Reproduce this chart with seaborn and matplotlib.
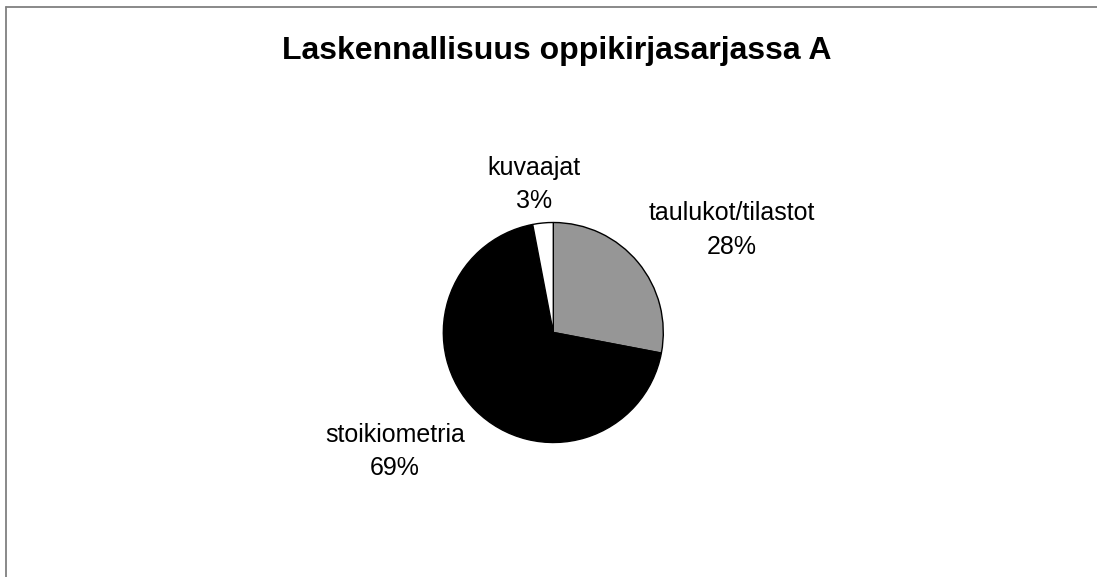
import matplotlib
matplotlib.use("Agg")
import matplotlib.pyplot as plt
import seaborn as sns
from matplotlib.lines import Line2D

# Data
categories = ["taulukot/tilastot", "stoikiometria", "kuvaajat"]
values = [28, 69, 3]
slice_colors = ["#969696", "#000000", "#ffffff"]
title_text = "Laskennallisuus oppikirjasarjassa A"

sns.set_theme(style="white")
plt.rcParams['font.family'] = ['Liberation Sans', 'DejaVu Sans']

W, H = 1097, 577
fig = plt.figure(figsize=(W / 100, H / 100), dpi=100)
fig.patch.set_facecolor("white")

# pie axes: centre (553, 332.5) px, radius 110 px
cx, cy, r = 553.3, 332.5, 110
ax = fig.add_axes([(cx - r) / W, (H - cy - r) / H, 2 * r / W, 2 * r / H])
ax.pie(values, colors=slice_colors, startangle=90, counterclock=False,
       radius=1.0, wedgeprops=dict(edgecolor="black", linewidth=1.0))
ax.set_xlim(-1, 1)
ax.set_ylim(-1, 1)
ax.set_aspect("equal")
ax.axis("off")

def px(x, y):
    return x / W, (H - y) / H

# title
fig.text(*px(557, 59), title_text, ha="center", va="baseline",
         fontsize=23, fontweight="bold", color="black")

# labels (y = baseline of the percentage line)
label_pos = {
    "taulukot/tilastot": (732, 254),
    "stoikiometria": (395, 475),
    "kuvaajat": (534, 208),
}
for cat, v in zip(categories, values):
    x, y = label_pos[cat]
    fig.text(*px(x, y), f"{cat}\n{v}%", ha="center", va="baseline",
             fontsize=18, color="black", linespacing=1.5)

# outer frame (top and left edges visible)
fig.add_artist(Line2D([5.5 / W, 5.5 / W], [0, (H - 6.5) / H],
                      transform=fig.transFigure, color="#808080", linewidth=1.3))
fig.add_artist(Line2D([5.5 / W, 1], [(H - 6.5) / H, (H - 6.5) / H],
                      transform=fig.transFigure, color="#808080", linewidth=1.3))

fig.savefig("out.png", dpi=100, facecolor="white")
